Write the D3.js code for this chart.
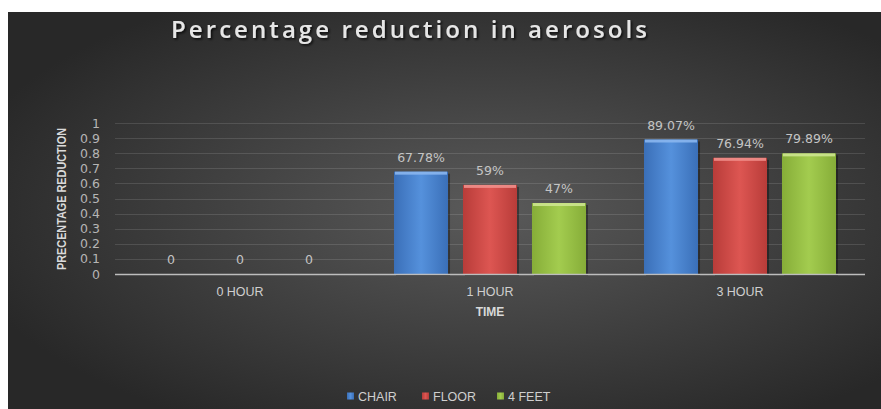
<!DOCTYPE html>
<html><head><meta charset="utf-8">
<script src="https://cdn.jsdelivr.net/npm/d3@7"></script>
<style>html,body{margin:0;padding:0;background:#fff;}svg{display:block;}</style>
</head><body><svg id="c" width="881" height="409"></svg>
<script>
const categories = ["0 HOUR", "1 HOUR", "3 HOUR"];
const seriesNames = ["CHAIR", "FLOOR", "4 FEET"];
const chairValues = [0, 0.6778, 0.8907];
const floorValues = [0, 0.59, 0.7694];
const feetValues = [0, 0.47, 0.7989];
const chairLabels = ["0", "67.78%", "89.07%"];
const floorLabels = ["0", "59%", "76.94%"];
const feetLabels = ["0", "47%", "79.89%"];
const yTicks = [0, 0.1, 0.2, 0.3, 0.4, 0.5, 0.6, 0.7, 0.8, 0.9, 1];
const yTickLabels = ["0", "0.1", "0.2", "0.3", "0.4", "0.5", "0.6", "0.7", "0.8", "0.9", "1"];

const series = [
  {name: seriesNames[0], values: chairValues, labels: chairLabels, c: ["#3a6fb8", "#5591dc", "#8ab6ee"]},
  {name: seriesNames[1], values: floorValues, labels: floorLabels, c: ["#b83c39", "#dd5652", "#f08f8b"]},
  {name: seriesNames[2], values: feetValues, labels: feetLabels, c: ["#86ad38", "#a3cc4f", "#cde68f"]}
];

const svg = d3.select("#c");
const defs = svg.append("defs");
const bg = defs.append("radialGradient").attr("id", "bg").attr("cx", "0.55").attr("cy", "0.5").attr("r", "0.62");
bg.append("stop").attr("offset", "0").attr("stop-color", "#5a5a5a");
bg.append("stop").attr("offset", "1").attr("stop-color", "#282828");
series.forEach((s, i) => {
  const g = defs.append("linearGradient").attr("id", "bar" + i).attr("x1", 0).attr("x2", 1).attr("y1", 0).attr("y2", 0);
  g.append("stop").attr("offset", 0).attr("stop-color", s.c[0]);
  g.append("stop").attr("offset", 0.5).attr("stop-color", s.c[1]);
  g.append("stop").attr("offset", 1).attr("stop-color", s.c[0]);
});
const sh = defs.append("filter").attr("id", "tsh").attr("x", "-10%").attr("y", "-30%").attr("width", "120%").attr("height", "160%");
sh.append("feDropShadow").attr("dx", 1.5).attr("dy", 1.5).attr("stdDeviation", 1).attr("flood-color", "#000").attr("flood-opacity", 0.8);

svg.append("rect").attr("x", 8).attr("y", 12).attr("width", 873).attr("height", 397).attr("fill", "url(#bg)");

const pLeft = 115, pRight = 865, pTop = 123, pBottom = 274;
const y = d3.scaleLinear().domain([0, 1]).range([pBottom, pTop]);
const x0 = d3.scaleBand().domain(categories).range([pLeft, pRight]).paddingInner(0.232).paddingOuter(0.116);
const x1 = d3.scaleBand().domain(seriesNames).range([0, x0.bandwidth()]).paddingInner(0.217).paddingOuter(0);

// title
svg.append("text").attr("x", 171).attr("y", 38).attr("textLength", 476).attr("lengthAdjust", "spacing")
  .attr("font-family", "Open Sans, sans-serif").attr("font-weight", 600).attr("font-size", 24)
  .attr("fill", "#e6e6e6").attr("filter", "url(#tsh)").text("Percentage reduction in aerosols");

// gridlines
svg.append("g").selectAll("line").data(yTicks.slice(1)).join("line")
  .attr("x1", pLeft).attr("x2", pRight).attr("y1", d => Math.round(y(d)) + 0.5).attr("y2", d => Math.round(y(d)) + 0.5)
  .attr("stroke", "#ffffff").attr("stroke-opacity", 0.12).attr("stroke-width", 1);

// y axis labels
const yAxis = d3.axisLeft(y).tickValues(yTicks).tickFormat((d, i) => yTickLabels[i]).tickSize(0).tickPadding(0);
const ya = svg.append("g").attr("transform", `translate(${100},0)`).call(yAxis);
ya.select(".domain").remove();
ya.selectAll("text").attr("font-family", "DejaVu Sans, sans-serif").attr("font-size", 12.5).attr("fill", "#b5b5b5");

// y title
svg.append("text").attr("transform", "translate(66,199) rotate(-90)").attr("text-anchor", "middle")
  .attr("textLength", 142).attr("lengthAdjust", "spacingAndGlyphs")
  .attr("font-family", "Liberation Sans, sans-serif").attr("font-weight", "bold").attr("font-size", 13.5)
  .attr("fill", "#dadada").text("PRECENTAGE REDUCTION");

// bars
const groups = svg.append("g").selectAll("g").data(categories).join("g")
  .attr("transform", d => `translate(${x0(d)},0)`);
groups.each(function(cat, ci) {
  const g = d3.select(this);
  series.forEach((s, si) => {
    const v = s.values[ci];
    const bx = x1(s.name), bw = x1.bandwidth();
    if (v > 0) {
      g.append("rect").attr("x", bx + 2).attr("y", y(v) + 2).attr("width", bw).attr("height", pBottom - y(v))
        .attr("fill", "#000").attr("opacity", 0.35);
      g.append("rect").attr("x", bx).attr("y", y(v)).attr("width", bw).attr("height", pBottom - y(v))
        .attr("fill", `url(#bar${si})`);
      g.append("rect").attr("x", bx + 1).attr("y", y(v)).attr("width", bw - 2).attr("height", 3)
        .attr("fill", s.c[2]).attr("opacity", 0.9);
    }
    g.append("text").attr("x", bx + bw / 2).attr("y", y(v) - 10).attr("text-anchor", "middle")
      .attr("font-family", "DejaVu Sans, sans-serif").attr("font-size", 12.5).attr("fill", "#c4c4c4")
      .text(s.labels[ci]);
  });
});

// x axis line
svg.append("line").attr("x1", pLeft).attr("x2", pRight).attr("y1", pBottom + 0.5).attr("y2", pBottom + 0.5)
  .attr("stroke", "#bdbdbd").attr("stroke-width", 1.5);

// x axis labels
const xAxis = d3.axisBottom(x0).tickSize(0).tickPadding(0);
const xa = svg.append("g").attr("transform", `translate(0,${296})`).call(xAxis);
xa.select(".domain").remove();
xa.selectAll("text").attr("dy", 0).attr("font-family", "Liberation Sans, sans-serif").attr("font-size", 12.5).attr("fill", "#cfcfcf");

svg.append("text").attr("x", 490).attr("y", 316).attr("text-anchor", "middle")
  .attr("font-family", "Liberation Sans, sans-serif").attr("font-weight", "bold").attr("font-size", 12)
  .attr("fill", "#d9d9d9").text("TIME");

// legend
const legX = [347, 422, 497];
const leg = svg.append("g").selectAll("g").data(series).join("g")
  .attr("transform", (d, i) => `translate(${legX[i]},396)`);
leg.append("rect").attr("x", 0).attr("y", -3.5).attr("width", 7).attr("height", 7).attr("fill", (d, i) => `url(#bar${i})`);
leg.append("text").attr("x", 11).attr("y", 4.5).attr("font-family", "Liberation Sans, sans-serif").attr("font-size", 12.5)
  .attr("fill", "#cfcfcf").text(d => d.name);
</script></body></html>
